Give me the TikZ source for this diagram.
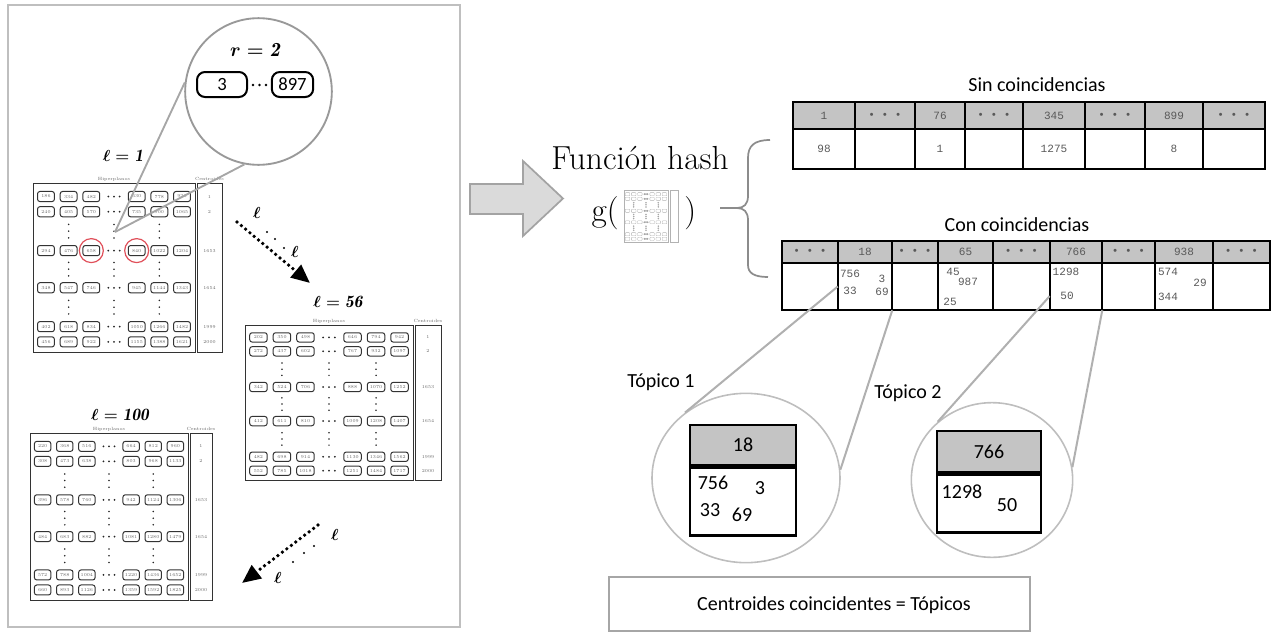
\documentclass[tikz,border=0pt]{standalone}
\usepackage{fontspec}
\usetikzlibrary{arrows.meta,shapes.geometric}
\newfontfamily\calibri{Carlito}
\newfontfamily\tabfont{Liberation Mono}
\definecolor{hdrgray}{HTML}{C4C4C4}
\definecolor{ringgray}{HTML}{BEBEBE}
\definecolor{linkgray}{HTML}{B0B0B0}
\definecolor{panelgray}{HTML}{BFBFBF}
\definecolor{arrowfill}{HTML}{DADADA}
\definecolor{arrowedge}{HTML}{A3A3A3}
\definecolor{hitred}{HTML}{E0505A}

% Thumbnail of a hash matrix: x0, y0, width, height, centroid column width, seed, text on/off
\newcommand{\mthumb}[7]{%
  \begin{scope}[shift={(#1,#2)}]
    \draw[thumbframe] (0,0) rectangle (#3,#4);
    \draw[thumbframe] ({#3+2},0) rectangle ({#3+2+#5},#4);
    \foreach \fy [count=\ri] in {0.08,0.17,0.40,0.62,0.85,0.94}{%
      \foreach \fx [count=\ci] in {0.08,0.22,0.36,0.64,0.78,0.92}{%
        \draw[thumbcell] ({(\fx-0.052)*#3},{(\fy-0.03)*#4}) rectangle ({(\fx+0.052)*#3},{(\fy+0.03)*#4});
        \ifnum#7=1\relax
          \pgfmathtruncatemacro\cellnum{mod(\ri*#6+\ci*131+\ri*\ci*17,1999)+1}%
          \node[thumbtext] at ({\fx*#3},{\fy*#4}) {\cellnum};
        \fi
      }
      \foreach \d in {-1,0,1}
        \fill[thumbdot] ({(0.5+\d*0.035)*#3},{\fy*#4}) circle (0.75pt);
    }
    \foreach \fx in {0.22,0.5,0.78}
      \foreach \fy in {0.245,0.285,0.325,0.47,0.51,0.55,0.695,0.735,0.775}
        \fill[thumbdot] ({\fx*#3},{\fy*#4}) circle (0.65pt);
    \ifnum#7=1\relax
      \node[thumbtext] at ({0.5*#3},-4) {Hiperplanos};
      \node[thumbtext] at ({#3+2+0.5*#5},-4) {Centroides};
      \foreach \fy/\lab in {0.08/1,0.17/2,0.40/1653,0.62/1654,0.85/1999,0.94/2000}
        \node[thumbtext] at ({#3+2+0.5*#5},{\fy*#4}) {\lab};
    \fi
  \end{scope}}

\begin{document}
\begin{tikzpicture}[x=0.75pt,y=-0.75pt,
  thumbframe/.style={draw=black!80,line width=0.7pt},
  thumbcell/.style={draw=black!80,line width=0.75pt,rounded corners=1.8pt},
  thumbtext/.style={font=\fontsize{3.4}{3.4}\selectfont,text=black!60,inner sep=0pt},
  thumbdot/.style={fill=black!85},
  elltitle/.style={font=\fontsize{13}{15}\selectfont\boldmath},
  ellmark/.style={font=\fontsize{12}{14}\selectfont\boldmath},
  pill/.style={draw,line width=1.5pt,rounded corners=6pt,font=\calibri\fontsize{14}{16}\selectfont,inner sep=0pt,minimum height=18.75pt},
  lensline/.style={draw=black!35,line width=1.4pt},
  dotarrow/.style={line width=2.8pt,line cap=round,dash pattern=on 0pt off 4.2pt,-{Triangle[length=14pt,width=12pt]}},
  tcell/.style={font=\tabfont\fontsize{8.3}{9.5}\selectfont,text=black!65,inner sep=0pt},
  tabrule/.style={line width=1.8pt,black},
  label/.style={font=\calibri\fontsize{15}{18}\selectfont},
  zoomring/.style={ellipse,draw=ringgray,line width=1.2pt,inner sep=0pt},
  zoomline/.style={draw=linkgray,line width=1.5pt},
  zhead/.style={draw,fill=hdrgray,line width=2.2pt,font=\calibri\fontsize{15}{18}\selectfont,inner sep=0pt},
  zbody/.style={draw,fill=white,line width=2.2pt,inner sep=0pt},
  znum/.style={font=\calibri\fontsize{15}{18}\selectfont,inner sep=0pt},
  bracepath/.style={draw=black!45,line width=1.3pt}]

\useasboundingbox (0,0) rectangle (1279,632);

% ---------- left panel ----------
\draw[panelgray,line width=2.2pt] (8,5) rectangle (460,627);

% matrices for l = 1, 56, 100
\mthumb{33}{183}{162}{169}{25}{37}{1}
\mthumb{245}{325}{168}{155}{26}{53}{1}
\mthumb{30}{433}{158}{167}{22}{71}{1}

\node[elltitle] (t1) at (123,156) {$\ell = \mathit{1}$};
\node[elltitle] (t56) at (338,302) {$\ell = \mathit{56}$};
\node[elltitle] (t100) at (120,415) {$\ell = \mathit{100}$};

% the two matching cells in l = 1
\node[circle,draw=hitred,line width=0.9pt,minimum size=18pt,inner sep=0pt] (hit1) at ({33+0.36*162},{183+0.40*169}) {};
\node[circle,draw=hitred,line width=0.9pt,minimum size=18pt,inner sep=0pt] (hit2) at ({33+0.64*162},{183+0.40*169}) {};

% magnifier
\node[circle,draw=black!40,line width=1.4pt,minimum size=110pt,inner sep=0pt] (lens) at (258.5,91.5) {};
\node[font=\fontsize{15}{18}\selectfont\boldmath] (rlab) at (255,50) {$r = \mathit{2}$};
\node[pill,minimum width=37.5pt] (v3) at (222,84.5) {3};
\node[pill,minimum width=31pt] (v897) at (292.5,84.5) {897};
\foreach \x in {253,259.5,266} \fill (\x,85) circle (1.1pt);
\coordinate (focus) at (115,232);
\draw[lensline] (lens.173) -- (focus);
\draw[lensline] (lens.259) -- (focus);

% dotted arrows between tables
\coordinate (d1s) at (237,222); \coordinate (d1e) at (310,283);
\draw[dotarrow] (d1s) -- (d1e);
\node[ellmark] (e1a) at (257,213) {$\ell$};
\node[ellmark] (e1b) at (295,252) {$\ell$};
\foreach \x/\y in {267/232,275/239,284/248} \fill (\x,\y) circle (0.9pt);

\coordinate (d2s) at (318,525); \coordinate (d2e) at (242,583);
\draw[dotarrow] (d2s) -- (d2e);
\node[ellmark] (e2a) at (335,535) {$\ell$};
\node[ellmark] (e2b) at (278,578) {$\ell$};
\foreach \x/\y in {293/562,304/553,314/546} \fill (\x,\y) circle (0.9pt);

% ---------- hash function ----------
\draw[fill=arrowfill,draw=arrowedge,line width=1.3pt]
  (470,184) -- (523,184) -- (523,161) -- (563,198.5) -- (523,236) -- (523,214) -- (470,214) -- cycle;
\node[font=\fontsize{25}{30}\selectfont] (fh) at (640,158) {Función hash};
\node[font=\fontsize{25}{30}\selectfont,anchor=east,inner sep=0pt] (gl) at (619,213) {g(};
\begin{scope}
  \tikzset{thumbframe/.style={draw=black!30,line width=0.3pt},
           thumbcell/.style={draw=black!30,line width=0.25pt,rounded corners=0.5pt},
           thumbdot/.style={fill=black!35}}
  \mthumb{624}{190}{44}{52}{8}{1}{0}
\end{scope}
\node[font=\fontsize{25}{30}\selectfont,anchor=west,inner sep=0pt] (gr) at (684,213) {)};

% brace
\draw[bracepath] (720,208) -- (737,208);
\draw[bracepath] (770,140) .. controls (754,140) and (748,146) .. (748,158) -- (748,196)
  .. controls (748,204) and (744,208) .. (737,208)
  .. controls (744,208) and (748,212) .. (748,220) -- (748,265)
  .. controls (748,273) and (754,277) .. (768,277);

% ---------- table without collisions ----------
\node[label] (sint) at (1037,85) {Sin coincidencias};
\fill[hdrgray] (793,102) rectangle (1265,129);
\foreach \xa/\xb/\hd/\bd [count=\i] in {793/855/1/98,855/915/{• • •}/{},915/965/76/1,965/1023/{• • •}/{},1023/1085/345/1275,1085/1145/{• • •}/{},1145/1203/899/8,1203/1265/{• • •}/{}}{
  \pgfmathsetmacro\cw{(\xb-\xa)*0.75}
  \node[tcell,minimum width=\cw pt,minimum height=20.25pt] (sh\i) at ({(\xa+\xb)/2},115.5) {\hd};
  \node[tcell,minimum width=\cw pt,minimum height=30pt] (sb\i) at ({(\xa+\xb)/2},149) {\bd};
}
\draw[tabrule] (sh1.north west) rectangle (sb8.south east);
\draw[tabrule] (sh1.south west) -- (sh8.south east);
\foreach \i in {1,...,7} \draw[tabrule] (sh\i.north east) -- (sb\i.south east);

% ---------- table with collisions ----------
\node[label] (cont) at (1017,225) {Con coincidencias};
\fill[hdrgray] (782,241) rectangle (1270,263);
\foreach \xa/\xb/\hd [count=\i] in {782/838/{• • •},838/892/18,892/938/{• • •},938/993/65,993/1050/{• • •},1050/1102/766,1102/1155/{• • •},1155/1213/938,1213/1270/{• • •}}{
  \pgfmathsetmacro\cw{(\xb-\xa)*0.75}
  \node[tcell,minimum width=\cw pt,minimum height=16.5pt] (ch\i) at ({(\xa+\xb)/2},252) {\hd};
  \node[tcell,minimum width=\cw pt,minimum height=35.25pt] (cb\i) at ({(\xa+\xb)/2},286.5) {};
}
\draw[tabrule] (ch1.north west) rectangle (cb9.south east);
\draw[tabrule] (ch1.south west) -- (ch9.south east);
\foreach \i in {1,...,8} \draw[tabrule] (ch\i.north east) -- (cb\i.south east);
\foreach \x/\y/\v in {850/274/756,882/279/3,850/291/33,882/292/69,
                      953/272/45,968/282/987,950/302/25,
                      1066/272/1298,1067/296/50,
                      1168/272/574,1200/283/29,1168/297/344}
  \node[tcell] at (\x,\y) {\v};

% ---------- zoomed buckets ----------
\node[zoomring,minimum width=141pt,minimum height=127pt] (ring1) at (746,478) {};
\node[zoomring,minimum width=121pt,minimum height=116pt] (ring2) at (992,480) {};

\draw[zoomline] (cb2.west) -- (ring1.133);
\draw[zoomline] (cb2.south east) -- (ring1.5);
\draw[zoomline] (cb6.200) -- (ring2.133);
\draw[zoomline] (cb6.south east) -- (ring2.9);

\node[label] (top1) at (661,382) {Tópico 1};
\node[label] (top2) at (908,393) {Tópico 2};

\node[zhead,minimum width=79.5pt,minimum height=30pt] (z1h) at (743,445) {18};
\node[zbody,minimum width=79.5pt,minimum height=51pt,anchor=north] (z1b) at (z1h.south) {};
\node[znum] at (713,483) {756};
\node[znum] at (760,488) {3};
\node[znum] at (710,510) {33};
\node[znum] at (742,515) {69};

\node[zhead,minimum width=78pt,minimum height=30.75pt] (z2h) at (989,451.5) {766};
\node[zbody,minimum width=78pt,minimum height=43.5pt,anchor=north] (z2b) at (z2h.south) {};
\node[znum] at (962,492) {1298};
\node[znum] at (1007,505) {50};

% ---------- summary ----------
\node[draw=black!35,line width=1.5pt,minimum width=315.75pt,minimum height=40.5pt,inner sep=0pt] (summ) at (819.5,604) {};
\node[label] (summtxt) at (834,605) {Centroides coincidentes = Tópicos};

\end{tikzpicture}
\end{document}
